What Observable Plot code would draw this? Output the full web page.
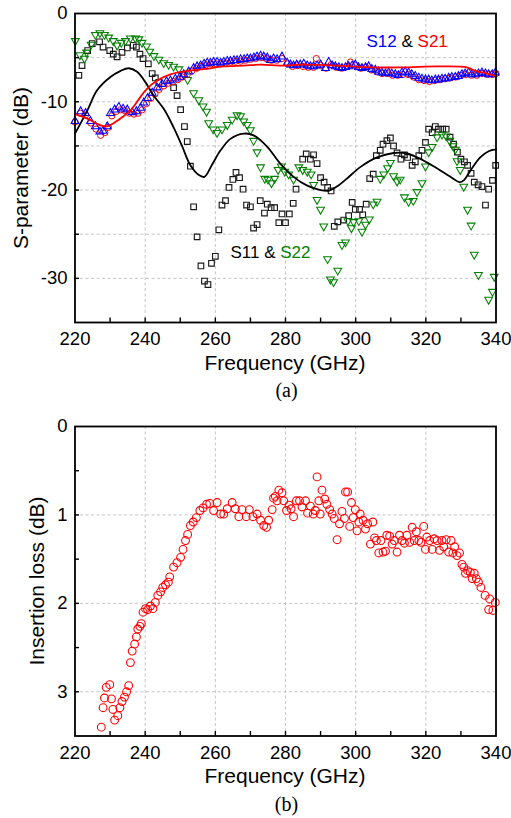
<!DOCTYPE html>
<html><head><meta charset="utf-8">
<script src="https://cdn.jsdelivr.net/npm/d3@7"></script>
<script src="https://cdn.jsdelivr.net/npm/@observablehq/plot@0.6"></script>
<style>
body{margin:0;background:#fff;}
#wrap{position:relative;width:511px;height:818px;font-family:"Liberation Sans",Arial,sans-serif;color:#000;overflow:hidden;}
.abs{position:absolute;white-space:nowrap;line-height:1;}
.chart{position:absolute;left:0;}
</style></head><body><div id="wrap"></div>
<script>
// ---------- data (frequency GHz, value) ----------
const s11Meas = [[221.1,-7.0],[222,-5.9],[223.6,-4.2],[224.9,-3.4],[227,-3.2],[228,-3.8],[229.9,-4.2],[230.9,-4.6],[232,-4.9],[233.4,-4.4],[234.9,-3.9],[236.6,-3.6],[237.5,-3.8],[238.5,-4.6],[239.4,-5.1],[240.9,-5.7],[242,-6.8],[242.9,-7.3],[243.9,-7.8],[248.1,-8.4],[249.1,-9.3],[250.1,-10.9],[251.2,-12.8],[252,-14.5],[252.9,-17.3],[253.8,-21.9],[254.8,-25.3],[255.9,-28.6],[256.9,-30.3],[257.9,-30.7],[258.9,-28.3],[260,-27.5],[261,-24.5],[261.9,-21.7],[262.9,-21.2],[263.9,-19.7],[265,-18.8],[265.9,-18.0],[266.9,-18.6],[267.9,-19.9],[268.9,-21.7],[270,-21.9],[270.9,-24.3],[271.9,-23.9],[272.8,-21.2],[274,-22.6],[274.8,-21.6],[275.9,-22.0],[276.9,-22.0],[278.1,-23.7],[279,-22.7],[280,-23.7],[281.1,-22.7],[282.2,-21.5],[283,-19.9],[284.9,-16.5],[285.9,-15.9],[287.1,-16.5],[288,-16.0],[289,-17.0],[290,-18.6],[291,-19.1],[292,-19.7],[293,-20.1],[293.9,-24.1],[294.9,-23.6],[296.6,-23.4],[298,-22.9],[299,-21.4],[299.9,-22.2],[301.1,-22.2],[302,-22.8],[303,-21.6],[304,-18.7],[305,-18.2],[305.9,-16.1],[307,-15.5],[307.8,-14.8],[308.9,-14.4],[309.9,-14.1],[310.8,-15.0],[311.8,-15.8],[312.9,-16.5],[313.9,-16.0],[314.8,-16.3],[316.1,-17.2],[317,-16.8],[318,-16.1],[318.9,-15.5],[319.9,-14.6],[320.8,-13.1],[321.8,-13.5],[322.7,-12.8],[323.6,-13.1],[324.8,-13.1],[325.8,-13.1],[326.9,-14.0],[327.9,-14.8],[329,-15.7],[330,-16.5],[331,-16.8],[331.9,-17.2],[332.9,-18.1],[333.8,-19.1],[334.9,-19.4],[336,-19.6],[337,-21.7],[337.9,-19.9],[339,-18.9],[339.9,-17.2]];

const s22Meas = [[220.1,-3.2],[221.4,-4.8],[222.7,-5.2],[223.3,-4.5],[224.6,-3.6],[225.8,-2.5],[227.1,-2.3],[228.4,-2.5],[229.6,-2.8],[230.9,-3.2],[232,-3.7],[233.2,-3.4],[234.4,-3.2],[235.8,-2.9],[237.2,-2.9],[238.2,-3.0],[239.1,-3.4],[240.4,-3.8],[241.3,-4.4],[242.5,-4.9],[243.9,-5.3],[245.3,-5.7],[246.7,-5.9],[248.1,-6.1],[249.6,-6.4],[251,-7.0],[252.1,-7.6],[253.8,-9.1],[255.3,-9.9],[256.5,-10.6],[257.5,-11.2],[258.1,-12.5],[259.4,-13.2],[260.5,-13.6],[261.9,-13.2],[263.4,-12.7],[264.8,-12.1],[266.2,-11.6],[267.2,-11.7],[268.1,-12.3],[269.1,-12.7],[270,-13.3],[270.9,-14.5],[271.9,-15.8],[272.9,-17.5],[274.1,-18.8],[275,-18.9],[276,-19.3],[276.9,-18.8],[277.9,-17.8],[278.8,-17.4],[279.8,-18.0],[280.9,-18.3],[282.3,-18.9],[283.8,-17.5],[284.9,-17.8],[286.2,-18.0],[287.3,-18.3],[288,-19.5],[289,-21.2],[290,-22.3],[290.9,-24.2],[292,-27.9],[292.8,-30.2],[293.7,-30.5],[294.9,-29.2],[296.1,-26.3],[297.1,-26.0],[297.8,-23.6],[298.8,-24.4],[299.4,-23.7],[300.9,-23.6],[301.8,-24.8],[302.8,-24.0],[303.9,-23.4],[305,-21.7],[306.1,-21.4],[307,-18.8],[308,-18.3],[309.1,-17.6],[309.9,-17.0],[310.8,-18.5],[311.8,-19.1],[312.7,-18.9],[313.9,-20.9],[315.1,-21.4],[316.4,-21.3],[317.5,-20.3],[318.9,-19.3],[319.9,-17.4],[320.8,-15.8],[321.8,-15.2],[323.2,-14.1],[324.6,-13.8],[325.8,-14.0],[326.8,-14.5],[327.7,-15.1],[328.4,-15.5],[328.9,-16.8],[329.8,-17.8],[330.8,-19.7],[331.9,-22.3],[332.9,-24.1],[333.8,-27.4],[335,-29.7],[337.9,-32.5],[339,-31.6],[339.5,-29.9]];

const s12Meas = [[220,-12.1],[221.6,-11.0],[223,-11.2],[224.4,-12.1],[225.8,-12.7],[227.1,-13.3],[228,-13.2],[229.2,-12.7],[230.1,-11.2],[231.3,-10.8],[232.5,-10.5],[233.7,-10.7],[234.9,-10.8],[236.3,-11.1],[237.5,-11.0],[238.7,-10.6],[239.6,-10.0],[240.7,-9.5],[242,-8.9],[243.4,-8.3],[244.8,-7.9],[246.1,-7.6],[247.2,-7.5],[248.6,-7.3],[249.9,-7.1],[251,-6.8],[252.4,-6.5],[253.8,-6.1],[254.8,-5.9],[255.8,-5.8],[256.8,-5.6],[257.7,-5.5],[258.6,-5.5],[259.5,-5.4],[260.5,-5.4],[261.5,-5.5],[262.4,-5.4],[263.4,-5.3],[264.3,-5.3],[265.3,-5.2],[266.2,-5.2],[267.2,-5.1],[268.2,-5.1],[269.1,-5.0],[270,-5.0],[271,-4.9],[271.9,-4.8],[272.9,-4.7],[273.8,-4.8],[274.8,-4.9],[275.7,-5.2],[276.6,-5.0],[277.6,-5.1],[279,-4.8],[280.5,-5.5],[281.4,-5.7],[282.3,-5.8],[283.2,-5.7],[284.2,-5.7],[285.2,-5.6],[286.2,-5.8],[287.1,-5.9],[288,-5.9],[289,-5.8],[290,-5.7],[291.4,-6.1],[292.3,-5.4],[293.3,-5.8],[294.2,-5.9],[295.2,-6.0],[296.1,-6.1],[297.1,-6.0],[298,-5.9],[299,-5.8],[299.9,-5.7],[300.8,-6.0],[301.8,-6.1],[302.8,-6.0],[303.7,-5.9],[304.6,-6.2],[305.6,-6.3],[306.5,-6.5],[307.5,-6.6],[308.5,-6.7],[309.4,-6.6],[310.3,-6.7],[311.3,-6.8],[312.2,-6.9],[313.2,-6.6],[314.1,-6.5],[315.1,-6.6],[316,-6.8],[317,-7.0],[318,-7.2],[318.9,-7.3],[319.9,-7.4],[320.8,-7.4],[321.7,-7.5],[322.7,-7.4],[323.6,-7.4],[324.6,-7.3],[325.5,-7.3],[326.5,-7.2],[327.4,-7.1],[328.4,-7.1],[329.3,-7.0],[330.3,-6.8],[331.2,-6.7],[332.2,-6.6],[333.1,-6.8],[334.1,-6.8],[335,-6.7],[336,-6.6],[337,-6.7],[337.9,-6.8],[338.9,-6.8],[339.8,-6.6]];

const s21Meas = [[220,-12.3],[221.5,-11.3],[223,-11.5],[224.5,-12.4],[226,-13.1],[227.3,-13.8],[228.5,-13.5],[229.5,-12.9],[230.5,-11.6],[231.7,-11.1],[233,-10.9],[234.2,-11.0],[235.5,-11.3],[236.8,-11.4],[238,-11.3],[239.2,-10.9],[240.4,-10.2],[241.6,-9.6],[242.8,-9.1],[244,-8.6],[245.3,-8.2],[246.6,-7.9],[248,-7.7],[249.3,-7.5],[250.6,-7.2],[252,-6.9],[253.3,-6.5],[254.7,-6.2],[256,-6.0],[257.4,-5.8],[258.8,-5.7],[260.2,-5.7],[261.6,-5.7],[263,-5.6],[264.4,-5.5],[265.8,-5.4],[267.2,-5.4],[268.6,-5.3],[270,-5.2],[271.5,-5.1],[273,-5.0],[274.5,-5.1],[276,-5.3],[277.5,-5.3],[279,-5.1],[280.5,-5.7],[282,-6.0],[283.5,-5.9],[285,-6.0],[286.5,-6.1],[288,-6.1],[288.8,-5.1],[290,-5.9],[291.5,-6.2],[293,-5.8],[294.5,-6.1],[296,-6.2],[297.5,-6.0],[298.5,-5.5],[300,-5.9],[301.5,-6.2],[303,-6.1],[304.5,-6.4],[306,-6.6],[307.5,-6.8],[309,-6.8],[310.5,-7.0],[312,-7.0],[313.5,-6.9],[315,-6.9],[316.5,-7.2],[318,-7.5],[319.5,-7.6],[321,-7.7],[322.5,-7.6],[324,-7.5],[325.5,-7.4],[327,-7.3],[328.5,-7.2],[330,-7.0],[331.5,-6.9],[333,-7.0],[334.5,-7.0],[336,-6.8],[337.5,-6.9],[339,-6.9],[340,-6.8]];

const s11Sim = [[220,-13.6],[223.5,-11.0],[226.3,-8.7],[230.1,-7.2],[233,-6.5],[235.3,-6.2],[237.7,-6.6],[240.1,-7.8],[242.4,-9.3],[245.3,-10.8],[248.1,-12.9],[250.5,-15.0],[252.9,-17.2],[255.3,-18.3],[256.9,-18.5],[259.1,-17.1],[261.5,-15.5],[264.3,-14.2],[268.1,-13.6],[270.9,-13.8],[274.8,-15.1],[278.5,-17.0],[282.3,-18.5],[286.2,-19.5],[290,-20.0],[292.5,-20.05],[295,-19.5],[297.5,-18.7],[301.3,-17.4],[306.1,-16.3],[310.8,-15.8],[314.2,-15.8],[317.5,-16.3],[322.2,-17.3],[327,-18.5],[329.6,-19.1],[330.8,-18.9],[332.7,-17.8],[335.5,-16.3],[337.9,-15.6],[340,-15.4]];

const s21Sim = [[220,-11.4],[223.5,-11.9],[226.3,-12.5],[228.7,-12.8],[231.5,-12.3],[233.9,-11.6],[235.8,-11.0],[237.7,-10.0],[240.1,-8.7],[243.4,-7.6],[247.2,-6.9],[252,-6.5],[256.7,-6.3],[262.4,-6.0],[268.1,-5.9],[272.9,-5.8],[278.5,-5.9],[285.2,-5.8],[294.7,-5.9],[304.2,-6.1],[313.7,-6.1],[323.2,-6.0],[331.7,-6.1],[334.1,-6.5],[337.4,-6.8],[340,-7.1]];

const insertionLoss = [[227.5,3.40],[228,3.18],[228.4,3.07],[228.9,2.95],[229.9,2.92],[230.4,3.08],[230.8,3.20],[231.3,3.32],[232.2,3.27],[232.8,3.18],[233.4,3.11],[234.1,3.06],[234.7,3.00],[235.3,2.93],[235.8,2.67],[236.3,2.54],[237,2.46],[237.5,2.38],[237.9,2.29],[238.5,2.26],[238.9,2.23],[239.4,2.10],[240.1,2.06],[240.7,2.07],[241.5,2.03],[242.2,2.06],[242.9,1.99],[243.6,1.91],[244.4,1.87],[245,1.82],[245.8,1.79],[246.6,1.76],[247,1.70],[248.1,1.59],[249.1,1.54],[250.1,1.48],[250.8,1.39],[251.5,1.29],[252.1,1.22],[252.9,1.12],[253.7,1.08],[254.6,1.03],[255.6,0.95],[256.5,0.92],[257.5,0.88],[258.4,0.87],[259.5,0.95],[260.5,0.86],[261.5,0.99],[262.4,0.99],[263.4,0.93],[264.8,0.86],[265.7,0.93],[266.7,1.02],[267.6,0.94],[268.8,1.02],[269.7,0.94],[270.7,1.02],[271.9,0.99],[272.9,1.06],[273.8,1.12],[274.6,1.14],[275.2,1.06],[276.2,0.94],[276.6,0.81],[277.1,0.79],[277.6,0.84],[278.1,0.72],[279,0.75],[279.5,0.84],[280.3,0.95],[281,0.89],[281.6,0.93],[282.3,1.02],[283.1,0.84],[284,0.84],[284.7,0.91],[285.7,0.84],[286.3,0.98],[287.1,0.90],[287.9,0.99],[288.5,0.95],[289,0.57],[289.5,0.84],[289.9,0.99],[290.4,0.72],[291.2,0.82],[291.8,0.88],[292.6,0.94],[293.3,0.99],[293.9,1.04],[294.7,1.28],[295.4,1.10],[296.1,0.96],[296.8,1.04],[297.1,0.74],[297.7,0.74],[298.3,1.13],[298.8,0.86],[299.3,1.03],[299.9,0.94],[300.4,1.18],[300.9,1.08],[301.3,0.99],[302.1,1.06],[302.8,1.16],[303.4,1.10],[304.2,1.33],[304.9,1.08],[305.4,1.26],[305.9,1.29],[306.6,1.43],[307.2,1.29],[307.8,1.42],[308.5,1.41],[308.9,1.23],[309.7,1.24],[310.4,1.33],[311,1.29],[311.8,1.42],[312.5,1.23],[313.2,1.29],[313.9,1.32],[314.6,1.23],[315.4,1.31],[316.1,1.14],[316.7,1.29],[317.3,1.19],[318,1.29],[318.6,1.31],[319.4,1.13],[319.9,1.39],[320.3,1.25],[321.1,1.29],[321.8,1.39],[322.4,1.27],[323.2,1.29],[323.9,1.40],[324.6,1.29],[325.1,1.36],[325.8,1.28],[326.5,1.42],[327.2,1.29],[327.7,1.43],[328.2,1.36],[328.9,1.46],[329.6,1.43],[330.3,1.56],[330.8,1.59],[331.3,1.66],[331.9,1.63],[332.7,1.65],[333.2,1.72],[333.8,1.66],[334.4,1.72],[335,1.76],[335.7,1.82],[336.9,1.91],[337.9,2.07],[338.2,1.95],[339.1,2.08],[339.8,1.99]];

// ---------- tick values ----------
const xDomain = [220, 340];
const xTickLabels = [220, 240, 260, 280, 300, 320, 340];
const xTickMarks = [230, 240, 250, 260, 270, 280, 290, 300, 310, 320, 330];
const xGridLines = [240, 260, 280, 300, 320];
const sDomain = [-35, 0];
const sTickLabels = [0, -10, -20, -30];
const sTickMarks = [-5, -10, -15, -20, -25, -30];
const sGridLines = [-5, -10, -15, -20, -25, -30];
const ilDomain = [0, 3.5];
const ilTickLabels = [0, 1, 2, 3];
const ilTickMarks = [0.5, 1, 1.5, 2, 2.5, 3];
const ilGridLines = [1, 2, 3];

// ---------- symbols ----------
const rad = size => Math.sqrt(size / Math.PI);
const triDown = {draw(c, s){const r = rad(s); c.moveTo(-r, -r*0.8); c.lineTo(r, -r*0.8); c.lineTo(0, r*0.95); c.closePath();}};
const triUp = {draw(c, s){const r = rad(s); c.moveTo(-r, r*0.8); c.lineTo(r, r*0.8); c.lineTo(0, -r*0.95); c.closePath();}};
const square = {draw(c, s){const r = rad(s); c.rect(-r, -r, 2*r, 2*r);}};

const FONT = '"Liberation Sans", Arial, sans-serif';
const GRID = {stroke: "#c4c4c4", strokeOpacity: 1, strokeWidth: 1, strokeDasharray: "3,2.5"};

function makeChart({height, marginTop, marginBottom, y, yTickMarks, yTickLabels, yGridLines, marks}) {
  return Plot.plot({
    width: 511, height, marginLeft: 74.5, marginRight: 15.5, marginTop, marginBottom,
    style: {fontFamily: FONT, fontSize: "18.5px", color: "#000", background: "transparent", overflow: "visible"},
    x: {domain: xDomain},
    y,
    marks: [
      Plot.gridX(xGridLines, GRID),
      Plot.gridY(yGridLines, GRID),
      ...marks,
      Plot.axisX(xTickMarks, {tickSize: -4.5, fill: "none", label: null, strokeWidth: 1.4}),
      Plot.axisX(xTickLabels, {tickSize: 0, tickPadding: 9.5, label: null, tickFormat: d => String(d)}),
      Plot.axisY(yTickMarks, {tickSize: -4.5, fill: "none", label: null, strokeWidth: 1.4}),
      Plot.axisY(yTickLabels, {tickSize: 0, tickPadding: 7.5, label: null, tickFormat: d => String(d)}),
      Plot.frame({stroke: "#000", strokeWidth: 1.8})
    ]
  });
}

const fx = d => d[0], fy = d => d[1];

const chartA = makeChart({
  height: 350, marginTop: 13, marginBottom: 28,
  y: {domain: sDomain},
  yTickMarks: sTickMarks, yTickLabels: sTickLabels, yGridLines: sGridLines,
  marks: [
    Plot.dot(s11Meas, {x: fx, y: fy, symbol: square, r: 2.8, stroke: "#1a1a1a", fill: "none", strokeWidth: 1.15}),
    Plot.dot(s22Meas, {x: fx, y: fy, symbol: triDown, r: 3.9, stroke: "#008000", fill: "none", strokeWidth: 1.05}),
    Plot.dot(s21Meas, {x: fx, y: fy, r: 3.1, stroke: "#ff0000", fill: "none", strokeWidth: 1}),
    Plot.dot(s12Meas, {x: fx, y: fy, symbol: triUp, r: 3.9, stroke: "#0000ff", fill: "none", strokeWidth: 1.05}),
    Plot.line(s11Sim, {x: fx, y: fy, stroke: "#000", strokeWidth: 1.8, curve: "catmull-rom"}),
    Plot.line(s21Sim, {x: fx, y: fy, stroke: "#ff0000", strokeWidth: 1.8, curve: "catmull-rom"})
  ]
});

const chartB = makeChart({
  height: 360, marginTop: 26, marginBottom: 24.5,
  y: {domain: ilDomain, reverse: true},
  yTickMarks: ilTickMarks, yTickLabels: ilTickLabels, yGridLines: ilGridLines,
  marks: [
    Plot.dot(insertionLoss, {x: fx, y: fy, r: 3.9, stroke: "#ff0000", fill: "none", strokeWidth: 1.1})
  ]
});

const wrap = document.getElementById("wrap");
chartA.classList.add("chart"); chartA.style.top = "0px";
chartB.classList.add("chart"); chartB.style.top = "400px";
wrap.appendChild(chartA);
wrap.appendChild(chartB);

function addText(html, css) {
  const d = document.createElement("div");
  d.className = "abs";
  d.innerHTML = html;
  Object.assign(d.style, css);
  wrap.appendChild(d);
  return d;
}
// axis titles
addText("Frequency (GHz)", {fontSize: "21px", left: "285px", top: "351.5px", transform: "translateX(-50%)"});
addText("Frequency (GHz)", {fontSize: "21px", left: "285px", top: "765px", transform: "translateX(-50%)"});
addText("S-parameter (dB)", {fontSize: "21px", left: "20px", top: "167.5px", transform: "translate(-50%,-50%) rotate(-90deg)"});
addText("Insertion loss (dB)", {fontSize: "21px", left: "36px", top: "580.5px", transform: "translate(-50%,-50%) rotate(-90deg)"});
// captions
addText("(a)", {fontFamily: '"Liberation Serif", "Times New Roman", serif', fontSize: "20px", left: "286.5px", top: "380.3px", transform: "translateX(-50%)"});
addText("(b)", {fontFamily: '"Liberation Serif", "Times New Roman", serif', fontSize: "20px", left: "286.5px", top: "793.8px", transform: "translateX(-50%)"});
// legends inside the plot
addText('<span style="color:#0000ff">S12</span> &amp; <span style="color:#ff0000">S21</span>', {fontSize: "17px", left: "366.5px", top: "33.3px"});
addText('S11 &amp; <span style="color:#008000">S22</span>', {fontSize: "17px", left: "230.5px", top: "243.9px"});
</script>
</body></html>
